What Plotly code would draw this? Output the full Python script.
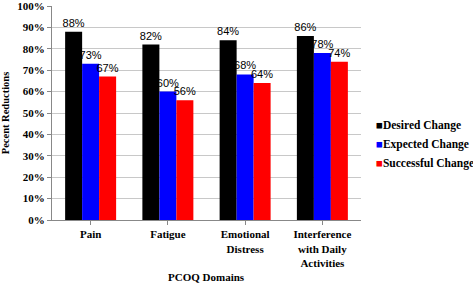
import plotly.graph_objects as go

categories = ["Pain", "Fatigue", "Emotional<br>Distress", "Interference<br>with Daily<br>Activities"]
desired = [88, 82, 84, 86]
expected = [73, 60, 68, 78]
successful = [67, 56, 64, 74]
series_names = ["Desired Change", "Expected Change", "Successful Change"]
colors = ["#000000", "#0000FF", "#FF0000"]
y_ticks = [0, 10, 20, 30, 40, 50, 60, 70, 80, 90, 100]

W, H = 473, 283
L, R, T, B = 52, 112, 6, 63
plot_h = H - T - B
plot_w = W - L - R

fig = go.Figure()
for name, vals, c in zip(series_names, [desired, expected, successful], colors):
    fig.add_trace(go.Bar(
        x=categories, y=vals, name=name, marker=dict(color=c, line=dict(width=0)),
        text=[f"{v}%" for v in vals], textposition="outside", cliponaxis=False,
        textfont=dict(family="Liberation Sans", size=11, color="#000"),
        constraintext="none", showlegend=False,
    ))

# axis title
fig.add_annotation(
    text="<b>PCOQ Domains</b>", xref="paper", yref="paper", x=0.5, y=-(277 - (H - B)) / plot_h,
    xanchor="center", yanchor="middle", showarrow=False,
    font=dict(family="Liberation Serif", size=11, color="#000"),
)

# legend built as text
legend_y_px = [125, 144, 163]
for name, c, ypx in zip(series_names, colors, legend_y_px):
    fig.add_annotation(
        text=f"<span style='color:{c}'>■</span><b>{name}</b>",
        xref="paper", yref="paper",
        x=(374 - L) / plot_w, y=((H - B) - ypx) / plot_h,
        xanchor="left", yanchor="middle", showarrow=False,
        font=dict(family="Liberation Serif", size=11.5, color="#000"),
    )

fig.update_layout(
    width=W, height=H,
    margin=dict(l=L, r=R, t=T, b=B, autoexpand=False),
    paper_bgcolor="white", plot_bgcolor="white",
    barmode="group", bargap=0.34, bargroupgap=0,
    font=dict(family="Liberation Serif", size=11, color="#000"),
    showlegend=False,
    xaxis=dict(
        automargin=False,
        showline=True, linecolor="#888", linewidth=1,
        ticks="outside", tickcolor="#888", ticklen=4,
        tickfont=dict(family="Liberation Serif", size=11, weight="bold"),
    ),
    yaxis=dict(
        automargin=False, ticklabeloverflow="allow",
        range=[0, 100], tickvals=y_ticks, ticktext=[f"{t}%" for t in y_ticks],
        showline=True, linecolor="#888", linewidth=1,
        ticks="outside", tickcolor="#888", ticklen=4,
        showgrid=True, gridcolor="#c8c8c8", gridwidth=1,
        tickfont=dict(family="Liberation Serif", size=11, weight="bold"),
        title=dict(text="<b>Pecent Reductions</b>", font=dict(family="Liberation Serif", size=10.5), standoff=6),
    ),
)
fig.write_html("out.html", config={"displayModeBar": False},
               post_script="document.body.style.margin='0';")
